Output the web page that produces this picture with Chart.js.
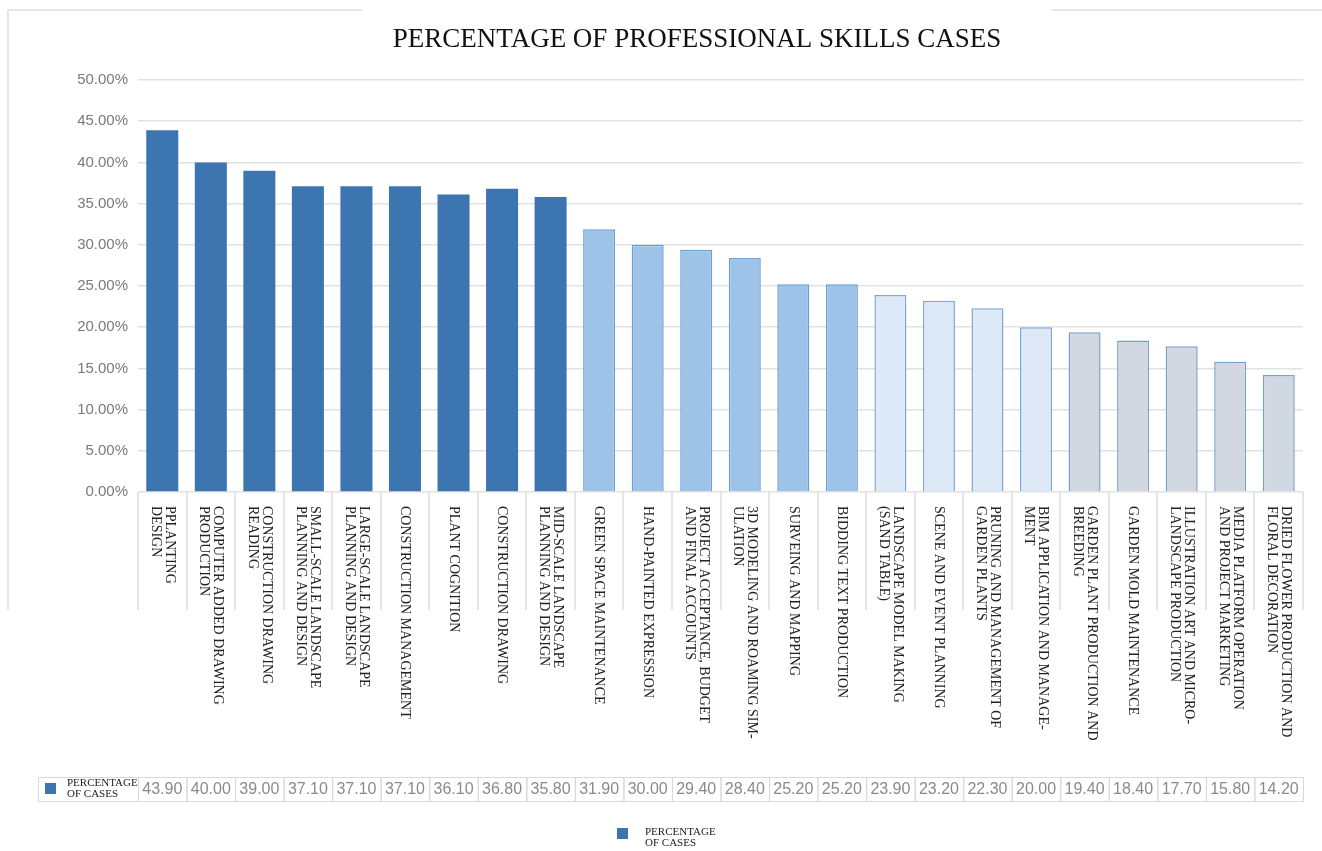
<!DOCTYPE html>
<html>
<head>
<meta charset="utf-8">
<script src="https://cdn.jsdelivr.net/npm/chart.js@4"></script>
<style>
  html, body { margin: 0; padding: 0; background: #fff; }
  #wrap { width: 1322px; height: 851px; position: relative; }
</style>
</head>
<body>
<div id="wrap"><canvas id="skillsChart"></canvas></div>
<script>
// Chart data
const chartTitle = 'PERCENTAGE OF PROFESSIONAL SKILLS CASES';
const seriesName = ['PERCENTAGE', 'OF CASES'];

const skills = [
    ['PPLANTING', 'DESIGN'],
    ['COMPUTER ADDED DRAWING', 'PRODUCTION'],
    ['CONSTRUCTION DRAWING', 'READING'],
    ['SMALL-SCALE LANDSCAPE', 'PLANNING AND DESIGN'],
    ['LARGE-SCALE LANDSCAPE', 'PLANNING AND DESIGN'],
    ['CONSTRUCTION MANAGEMENT'],
    ['PLANT COGNITION'],
    ['CONSTRUCTION DRAWING'],
    ['MID-SCALE LANDSCAPE', 'PLANNING AND DESIGN'],
    ['GREEN SPACE MAINTENANCE'],
    ['HAND-PAINTED EXPRESSION'],
    ['PROJECT ACCEPTANCE, BUDGET', 'AND FINAL ACCOUNTS'],
    ['3D MODELING AND ROAMING SIM-', 'ULATION'],
    ['SURVEING AND MAPPING'],
    ['BIDDING TEXT PRODUCTION'],
    ['LANDSCAPE MODEL MAKING', '(SAND TABLE)'],
    ['SCENE AND EVENT PLANNING'],
    ['PRUNING AND MANAGEMENT OF', 'GARDEN PLANTS'],
    ['BIM APPLICATION AND MANAGE-', 'MENT'],
    ['GARDEN PLANT PRODUCTION AND', 'BREEDING'],
    ['GARDEN MOLD MAINTENANCE'],
    ['ILLUSTRATION ART AND MICRO-', 'LANDSCAPE PRODUCTION'],
    ['MEDIA PLATFORM OPERATION', 'AND PROJECT MARKETING'],
    ['DRIED FLOWER PRODUCTION AND', 'FLORAL DECORATION']
];

const percentages = [
    43.90, 40.00, 39.00, 37.10, 37.10, 37.10, 36.10, 36.80, 35.80, 31.90, 30.00, 29.40,
    28.40, 25.20, 25.20, 23.90, 23.20, 22.30, 20.00, 19.40, 18.40, 17.70, 15.80, 14.20
];

// shading group of each bar (0 = darkest)
const shadeGroup = [0, 0, 0, 0, 0, 0, 0, 0, 0, 1, 1, 1, 1, 1, 1, 2, 2, 2, 2, 3, 3, 3, 3, 3];

const yTicks = [0, 5, 10, 15, 20, 25, 30, 35, 40, 45, 50];

// styles
const fills = ['#3d75b1', '#9dc3e8', '#dde9f6', '#d2d8e1'];
const borders = ['#3d75b1', '#6f9ed0', '#7ea8d5', '#7d9fcb'];
const serif = '"Liberation Serif", "DejaVu Serif", serif';
const sans = '"Liberation Sans", Arial, sans-serif';

const decorPlugin = {
    id: 'decor',
    beforeDraw(chart) {
        const ctx = chart.ctx;
        ctx.save();
        // outer frame remnants
        ctx.strokeStyle = '#dedede';
        ctx.lineWidth = 1.5;
        ctx.beginPath();
        ctx.moveTo(8, 10); ctx.lineTo(362, 10);
        ctx.moveTo(1052, 10); ctx.lineTo(1322, 10);
        ctx.moveTo(8, 10); ctx.lineTo(8, 610);
        ctx.stroke();
        ctx.restore();
    },
    afterDraw(chart) {
        const ctx = chart.ctx;
        const x = chart.scales.x;
        const half = (x.getPixelForValue(1) - x.getPixelForValue(0)) / 2;
        ctx.save();

        // title
        ctx.fillStyle = '#111';
        ctx.font = '27px ' + serif;
        ctx.textAlign = 'center';
        ctx.textBaseline = 'alphabetic';
        ctx.fillText(chartTitle, 697, 47);

        // category labels, rotated to read downward
        ctx.fillStyle = '#222';
        ctx.font = '14px ' + serif;
        ctx.textAlign = 'left';
        ctx.textBaseline = 'middle';
        skills.forEach((lines, i) => {
            const px = x.getPixelForValue(i);
            ctx.save();
            ctx.translate(px, 506);
            ctx.rotate(Math.PI / 2);
            lines.forEach((line, j) => {
                ctx.fillText(line, 0, (j - (lines.length - 1) / 2) * 14);
            });
            ctx.restore();
        });

        // data table
        const top = 777, bottom = 801, mid = (top + bottom) / 2;
        ctx.strokeStyle = '#d9d9d9';
        ctx.lineWidth = 1;
        ctx.strokeRect(38.5, top + 0.5, x.left - 38, bottom - top);
        percentages.forEach((v, i) => {
            const px = x.getPixelForValue(i);
            ctx.strokeRect(px - half + 0.5, top + 0.5, half * 2, bottom - top);
        });
        ctx.fillStyle = fills[0];
        ctx.fillRect(45, mid - 6, 11, 11);
        ctx.fillStyle = '#222';
        ctx.font = '11px ' + serif;
        ctx.textAlign = 'left';
        ctx.fillText(seriesName[0], 67, mid - 6);
        ctx.fillText(seriesName[1], 67, mid + 5);
        ctx.fillStyle = '#8a8a8a';
        ctx.font = '16px ' + sans;
        ctx.textAlign = 'center';
        percentages.forEach((v, i) => {
            ctx.fillText(v.toFixed(2), x.getPixelForValue(i), mid + 1);
        });

        // legend
        ctx.fillStyle = fills[0];
        ctx.fillRect(617, 828, 11, 11);
        ctx.fillStyle = '#222';
        ctx.font = '11px ' + serif;
        ctx.textAlign = 'left';
        ctx.fillText(seriesName[0], 645, 832);
        ctx.fillText(seriesName[1], 645, 843);

        ctx.restore();
    }
};

function initChart() {
    const ctx = document.getElementById('skillsChart').getContext('2d');
    new Chart(ctx, {
        type: 'bar',
        data: {
            labels: skills.map(s => s.join(' ')),
            datasets: [{
                label: seriesName.join(' '),
                data: percentages,
                backgroundColor: shadeGroup.map(g => fills[g]),
                borderColor: shadeGroup.map(g => borders[g]),
                borderWidth: shadeGroup.map(g => g === 0 ? 0 : 1.5),
                barPercentage: 0.66,
                categoryPercentage: 1
            }]
        },
        options: {
            responsive: true,
            maintainAspectRatio: false,
            animation: false,
            layout: {
                padding: { top: 80, right: 19, bottom: 241, left: 0 }
            },
            plugins: {
                legend: { display: false },
                title: { display: false },
                tooltip: { enabled: false }
            },
            scales: {
                x: {
                    offset: true,
                    grid: {
                        display: true,
                        drawOnChartArea: false,
                        drawTicks: true,
                        tickLength: 118,
                        offset: true,
                        color: '#e6e6e6',
                        lineWidth: 2
                    },
                    border: { display: false },
                    ticks: { display: false },
                    afterFit: s => { s.height = 118; }
                },
                y: {
                    min: yTicks[0],
                    max: yTicks[yTicks.length - 1],
                    afterBuildTicks: s => { s.ticks = yTicks.map(v => ({ value: v })); },
                    grid: { color: '#e2e2e2', lineWidth: 1.5, drawTicks: false },
                    border: { display: false },
                    ticks: {
                        padding: 10,
                        color: '#7a7a7a',
                        font: { family: sans, size: 15 },
                        callback: v => v.toFixed(2) + '%'
                    },
                    afterFit: s => { s.width = 138; }
                }
            }
        },
        plugins: [decorPlugin]
    });
}

document.addEventListener('DOMContentLoaded', initChart);
</script>
</body>
</html>
